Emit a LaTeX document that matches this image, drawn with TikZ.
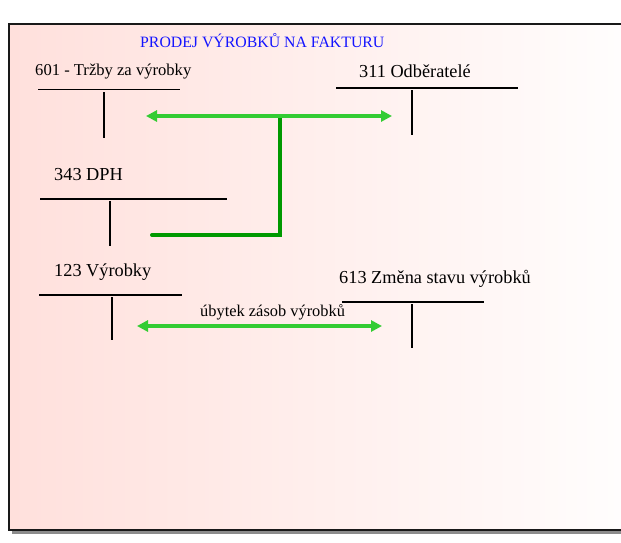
\documentclass[tikz,border=0pt]{standalone}
\usepackage{fontspec}
\setmainfont{Liberation Serif}
\usetikzlibrary{arrows.meta}
\definecolor{bgpink}{RGB}{255,224,220}
\definecolor{lgreen}{RGB}{51,204,51}
\definecolor{dgreen}{RGB}{0,153,0}
\definecolor{ttlblue}{RGB}{20,20,255}
\tikzset{
  lbl/.style={anchor=base west, inner sep=0pt, font=\fontsize{18.3}{20}\selectfont},
  lblsmall/.style={anchor=base west, inner sep=0pt, font=\fontsize{16.6}{18}\selectfont},
  ttl/.style={anchor=base west, inner sep=0pt, text=ttlblue, font=\fontsize{15.8}{18}\selectfont},
  tline/.style={line width=1.8pt, black},
  flowarrow/.style={line width=4pt, lgreen, {Triangle[length=11pt,width=11pt]}-{Triangle[length=11pt,width=11pt]}, shorten <=0pt, shorten >=0pt},
  vatline/.style={line width=4pt, dgreen, line cap=round, line join=miter}
}
\begin{document}
\begin{tikzpicture}[x=1pt,y=-1pt]
\useasboundingbox (0,0) rectangle (621,542);
\clip (0,0) rectangle (621,542);
\fill[white] (0,0) rectangle (621,542);
% shadow
\fill[gray!90] (12,27) rectangle (660,534);
% frame with gradient
\shade[left color=bgpink, right color=white] (9,24) rectangle (660,530);
\draw[line width=2.4pt, black!90] (9,24) rectangle (660,530);

% title
\node[ttl] (title) at (140,47.5) {PRODEJ VÝROBKŮ NA FAKTURU};

% account 601
\node[lblsmall] (l601) at (35,75) {601 - Tržby za výrobky};
\coordinate (h601a) at (38,89.5); \coordinate (h601b) at (180,89.5);
\coordinate (v601a) at (104,92); \coordinate (v601b) at (104,138);
\draw[tline] (h601a) -- (h601b);
\draw[tline] (v601a) -- (v601b);

% account 311
\node[lbl] (l311) at (359,77.3) {311 Odběratelé};
\coordinate (h311a) at (336,88); \coordinate (h311b) at (518,88);
\coordinate (v311a) at (412,90); \coordinate (v311b) at (412,135);
\draw[tline] (h311a) -- (h311b);
\draw[tline] (v311a) -- (v311b);

% account 343
\node[lbl] (l343) at (54,180) {343 DPH};
\coordinate (h343a) at (40,199); \coordinate (h343b) at (227,199);
\coordinate (v343a) at (110,201); \coordinate (v343b) at (110,246);
\draw[tline] (h343a) -- (h343b);
\draw[tline] (v343a) -- (v343b);

% account 123
\node[lbl] (l123) at (54,276) {123 Výrobky};
\coordinate (h123a) at (39,295); \coordinate (h123b) at (182,295);
\coordinate (v123a) at (112,297); \coordinate (v123b) at (112,340);
\draw[tline] (h123a) -- (h123b);
\draw[tline] (v123a) -- (v123b);

% account 613
\node[lbl] (l613) at (339,283.3) {613 Změna stavu výrobků};
\coordinate (h613a) at (342,302); \coordinate (h613b) at (484,302);
\coordinate (v613a) at (412,304); \coordinate (v613b) at (412,348);
\draw[tline] (h613a) -- (h613b);
\draw[tline] (v613a) -- (v613b);

% flows
\coordinate (a1l) at (146,116); \coordinate (a1r) at (392,116);
\coordinate (junc) at (280,116);
\coordinate (vcorner) at (280,235); \coordinate (vend) at (152,235);
\draw[vatline] (junc) -- (vcorner) -- (vend);
\draw[flowarrow] (a1l) -- (a1r);

\coordinate (a2l) at (137,326); \coordinate (a2r) at (382,326);
\draw[flowarrow] (a2l) -- (a2r);
\node[lblsmall, font=\fontsize{16.4}{18}\selectfont] (lubytek) at (200,316.7) {úbytek zásob výrobků};
\end{tikzpicture}
\end{document}
